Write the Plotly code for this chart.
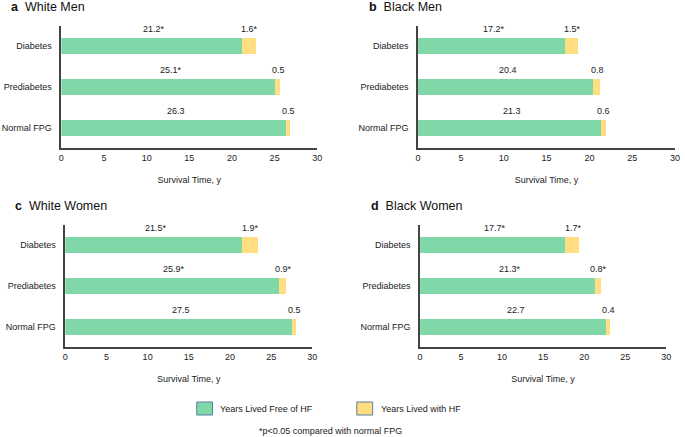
import plotly.graph_objects as go

categories = ["Normal FPG", "Prediabetes", "Diabetes"]

panel_titles = ["White Men", "Black Men", "White Women", "Black Women"]
panel_letters = ["a", "b", "c", "d"]

# values ordered as categories: Normal FPG, Prediabetes, Diabetes
free_white_men = [26.3, 25.1, 21.2]
hf_white_men = [0.5, 0.5, 1.6]
free_black_men = [21.3, 20.4, 17.2]
hf_black_men = [0.6, 0.8, 1.5]
free_white_women = [27.5, 25.9, 21.5]
hf_white_women = [0.5, 0.9, 1.9]
free_black_women = [22.7, 21.3, 17.7]
hf_black_women = [0.4, 0.8, 1.7]

# significance markers
sig_free_white_men = [False, True, True]
sig_hf_white_men = [False, False, True]
sig_free_black_men = [False, False, True]
sig_hf_black_men = [False, False, True]
sig_free_white_women = [False, True, True]
sig_hf_white_women = [False, True, True]
sig_free_black_women = [False, True, True]
sig_hf_black_women = [False, True, True]

x_ticks = [0, 5, 10, 15, 20, 25, 30]

GREEN = "#80d8a9"
YELLOW = "#fede80"
W, H = 685, 437
FONT = "Liberation Sans, Arial, sans-serif"
TXT = "#222222"

panels = [
    (free_white_men, hf_white_men, sig_free_white_men, sig_hf_white_men, (59, 318), (26, 148)),
    (free_black_men, hf_black_men, sig_free_black_men, sig_hf_black_men, (420, 680), (26, 148)),
    (free_white_women, hf_white_women, sig_free_white_women, sig_hf_white_women, (63, 313), (225, 347)),
    (free_black_women, hf_black_women, sig_free_black_women, sig_hf_black_women, (422, 671), (225, 347)),
]

fig = go.Figure()
annotations = []
shapes = []

for i, (free, hf, sf, sh, (x0, x1), (ytop, ybot)) in enumerate(panels):
    n = "" if i == 0 else str(i + 1)
    xa, ya = "x" + n, "y" + n
    fig.add_trace(go.Bar(y=categories, x=free, orientation="h", marker=dict(color=GREEN, line=dict(width=0)),
                         width=0.4, xaxis=xa, yaxis=ya, showlegend=False, name="Years Lived Free of HF"))
    fig.add_trace(go.Bar(y=categories, x=hf, orientation="h", marker=dict(color=YELLOW, line=dict(width=0)),
                         width=0.4, xaxis=xa, yaxis=ya, showlegend=False, name="Years Lived with HF"))
    xdom = [x0 / W, x1 / W]
    ydom = [1 - ybot / H, 1 - ytop / H]
    fig.update_layout(**{
        ("xaxis" + n): dict(domain=xdom, anchor=ya, range=[0, 30], tickvals=x_ticks,
                            showgrid=False, zeroline=False, showline=True, linecolor="#444", linewidth=1.5,
                            ticks="", ticklabeloverflow="allow",
                            tickfont=dict(size=9, color=TXT, family=FONT),
                            title=dict(text="Survival Time, y", font=dict(size=9, color=TXT, family=FONT), standoff=15)),
        ("yaxis" + n): dict(domain=ydom, anchor=xa, range=[-0.5, 2.5], type="category",
                            categoryorder="array", categoryarray=categories,
                            showgrid=False, zeroline=False, showline=True, linecolor="#444", linewidth=1.5,
                            ticks="", ticklabelstandoff=6, tickfont=dict(size=9, color=TXT, family=FONT)),
    })
    for k, cat in enumerate(categories):
        annotations.append(dict(x=free[k] / 2 + 0.3, y=k, xref=xa, yref=ya, yshift=17,
                                text=f"{free[k]}" + ("*" if sf[k] else ""), showarrow=False,
                                font=dict(size=9, color=TXT, family=FONT)))
        annotations.append(dict(x=free[k] + hf[k] / 2 + 0.1, y=k, xref=xa, yref=ya, yshift=17,
                                text=f"{hf[k]}" + ("*" if sh[k] else ""), showarrow=False,
                                font=dict(size=9, color=TXT, family=FONT)))

title_pos = [(6, 7), (368, 7), (10, 206), (370, 206)]
for (tx, ty), letter, title in zip(title_pos, panel_letters, panel_titles):
    annotations.append(dict(x=tx / W, y=1 - ty / H, xref="paper", yref="paper", xanchor="left", yanchor="middle",
                            text=f"<b>{letter}</b>  {title}", showarrow=False,
                            font=dict(size=12.5, color="#111", family=FONT)))

# legend
legend_items = [("Years Lived Free of HF", GREEN, 196), ("Years Lived with HF", YELLOW, 358)]
for label, col, lx in legend_items:
    shapes.append(dict(type="rect", xref="paper", yref="paper", x0=lx / W, x1=(lx + 16) / W,
                       y0=1 - 415 / H, y1=1 - 402 / H, fillcolor=col, line=dict(color="#5a7fa8", width=1)))
    annotations.append(dict(x=(lx + 22) / W, y=1 - 408.5 / H, xref="paper", yref="paper", xanchor="left",
                            yanchor="middle", text=label, showarrow=False,
                            font=dict(size=9, color=TXT, family=FONT)))

annotations.append(dict(x=331 / W, y=1 - 431 / H, xref="paper", yref="paper", xanchor="center", yanchor="middle",
                        text="*p<0.05 compared with normal FPG", showarrow=False, borderpad=0,
                        font=dict(size=9, color=TXT, family=FONT)))

fig.update_layout(width=W, height=H, margin=dict(l=0, r=0, t=0, b=0), barmode="stack",
                  plot_bgcolor="white", paper_bgcolor="white", annotations=annotations, shapes=shapes,
                  font=dict(family=FONT, color=TXT))

fig.write_html("out.html", config={"displayModeBar": False},
               post_script="document.body.style.margin='0';document.body.style.overflow='hidden';")
